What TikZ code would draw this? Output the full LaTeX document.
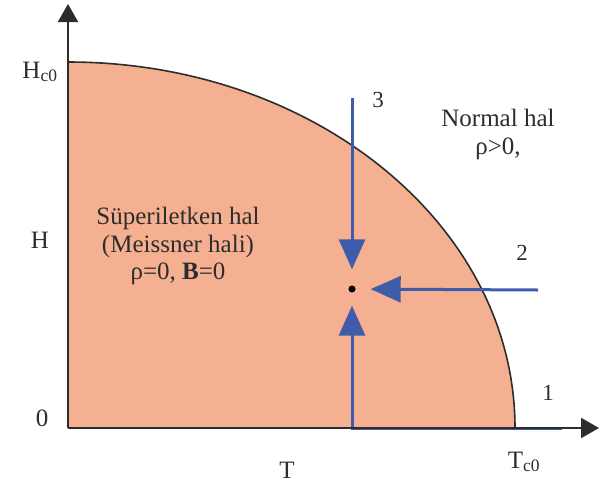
\documentclass[tikz,border=0pt]{standalone}
\usepackage{fontspec}
\setmainfont{Liberation Serif}
\usetikzlibrary{arrows.meta}
\definecolor{fillpeach}{RGB}{245,176,146}
\definecolor{pathblue}{RGB}{62,92,170}
\definecolor{inkgray}{RGB}{45,45,45}
\tikzset{
  axisline/.style={draw=inkgray, line width=2pt, -{Triangle[length=18pt,width=20pt]}},
  boundary/.style={draw=inkgray, line width=1.6pt},
  pathline/.style={draw=pathblue, line width=3pt, -{Triangle[length=30pt,width=26pt]}},
  lbl/.style={inner sep=0pt, text=inkgray, font=\fontsize{25}{27.5}\selectfont},
  numlbl/.style={inner sep=0pt, text=inkgray, font=\fontsize{23}{26}\selectfont},
}
\begin{document}
\begin{tikzpicture}[x=1pt,y=-1pt]
\useasboundingbox (0,0) rectangle (600,491);
\coordinate (O) at (68,428);
\coordinate (Ytop) at (68,4);
\coordinate (Xend) at (599,428);
% superconducting region
\fill[fillpeach] (68,428) -- (68,62) arc[start angle=90,end angle=0,x radius=447,y radius=-366] -- cycle;
\draw[boundary] (68,62) arc[start angle=90,end angle=0,x radius=447,y radius=-366];
% the point
\node[circle, fill=black, inner sep=0pt, minimum size=7pt] (pt) at (352,289) {};
\coordinate (s3) at (352,98);
\coordinate (s2) at (538,290);
\coordinate (s1) at (562,428);
\coordinate (c1) at (352,428);
% paths
\draw[pathline, shorten >=16pt] (s3) -- (pt);
\draw[pathline, shorten >=15pt] (s2) -- (pt);
\draw[pathline, shorten >=13pt] (s1) -- (c1) -- (pt);
% axes
\draw[axisline] (O) -- (Ytop);
\draw[axisline] (O) -- (Xend);
% labels
\node[lbl] (hc0) at (40,72) {H\textsubscript{c0}};
\node[lbl] (hlab) at (40,240) {H};
\node[lbl] (zero) at (42,418) {0};
\node[lbl] (tlab) at (287,470) {T};
\node[lbl] (tc0) at (524,462) {T\textsubscript{c0}};
\node[numlbl] (n1) at (548,393) {1};
\node[numlbl] (n2) at (522,253) {2};
\node[numlbl] (n3) at (378,100) {3};
\node[lbl] (normal) at (498,118) {Normal hal};
\node[lbl] (rhopos) at (498,149) {ρ>0,};
\node[lbl, align=center] (super) at (178,246) {Süperiletken hal\\(Meissner hali)\\ρ=0, \textbf{B}=0};
\end{tikzpicture}
\end{document}
